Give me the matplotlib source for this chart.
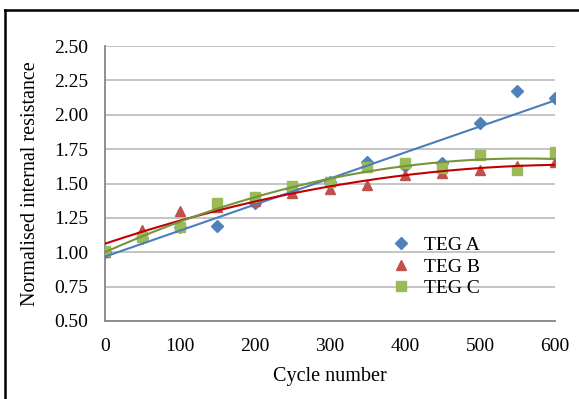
import numpy as np
import matplotlib
matplotlib.use('Agg')
import matplotlib.pyplot as plt
from matplotlib.lines import Line2D

plt.rcParams['font.family'] = ['Liberation Serif', 'DejaVu Serif']

# Измерения сопротивления по циклам
cycles = [0, 50, 100, 150, 200, 250, 300, 350, 400, 450, 500, 550, 600]
teg_a = [1.00, 1.10, 1.18, 1.19, 1.36, 1.46, 1.51, 1.66, 1.63, 1.65, 1.94, 2.17, 2.12]
teg_b = [1.00, 1.16, 1.30, 1.33, 1.37, 1.43, 1.46, 1.49, 1.56, 1.58, 1.60, 1.63, 1.66]
teg_c = [1.01, 1.11, 1.18, 1.36, 1.40, 1.48, 1.51, 1.62, 1.65, 1.61, 1.71, 1.60, 1.73]

x_ticks = [0, 100, 200, 300, 400, 500, 600]
y_ticks = [0.50, 0.75, 1.00, 1.25, 1.50, 1.75, 2.00, 2.25, 2.50]

fig = plt.figure(figsize=(5.79, 3.99), dpi=100)
ax = fig.add_axes([0.1813, 0.1955, 0.7772, 0.6892])

# Рамка вокруг рисунка (видны только левая и верхняя стороны)
fx, fy = 5 / 579, 1 - 10 / 399
fig.add_artist(Line2D([fx, fx], [0, fy], transform=fig.transFigure,
                      color='black', linewidth=1.8))
fig.add_artist(Line2D([fx, 1], [fy, fy], transform=fig.transFigure,
                      color='black', linewidth=1.8))

x = np.array(cycles, dtype=float)
xs = np.linspace(0, 600, 200)

# Точки
ax.plot(cycles, teg_a, 'D', color='#4F81BD', markersize=6, label='TEG A', zorder=3)
ax.plot(cycles, teg_b, '^', color='#C0504D', markersize=7.5, label='TEG B', zorder=3)
ax.plot(cycles, teg_c, 's', color='#9BBB59', markersize=7, label='TEG C', zorder=3)

# Линии тренда: линейная для A, полиномиальные для B и C
fit_a = np.polyfit(x, teg_a, 1)
fit_b = np.polyfit(x, teg_b, 2)
fit_c = np.polyfit(x, teg_c, 2)
ax.plot(xs, np.polyval(fit_a, xs), color='#4A7EBB', linewidth=1.5, zorder=4)
ax.plot(xs, np.polyval(fit_b, xs), color='#C00000', linewidth=1.5, zorder=4)
ax.plot(xs, np.polyval(fit_c, xs), color='#77933C', linewidth=1.5, zorder=4)

ax.set_xlim(0, 600)
ax.set_ylim(0.5, 2.5)
ax.set_xticks(x_ticks)
ax.set_yticks(y_ticks)
ax.set_yticklabels([f'{v:.2f}' for v in y_ticks])
ax.tick_params(length=0, labelsize=14)
ax.tick_params(axis='x', pad=12)
ax.tick_params(axis='y', pad=12)
ax.grid(axis='y', color='#BFBFBF', linewidth=1.3)
ax.set_axisbelow(True)

for side in ['top', 'right']:
    ax.spines[side].set_visible(False)
for side in ['left', 'bottom']:
    ax.spines[side].set_color('#868686')
    ax.spines[side].set_linewidth(1.3)

ax.set_xlabel('Cycle number', fontsize=14.5, labelpad=9)
ax.set_ylabel('Normalised internal resistance', fontsize=14.5, labelpad=10)

ax.legend(loc='upper left', bbox_to_anchor=(372 / 579, 1 - 219 / 399),
          bbox_transform=fig.transFigure, frameon=False, fontsize=14,
          labelspacing=0.2, handletextpad=0.6, handlelength=1.2)

plt.savefig('out.png', dpi=100)
plt.close()
